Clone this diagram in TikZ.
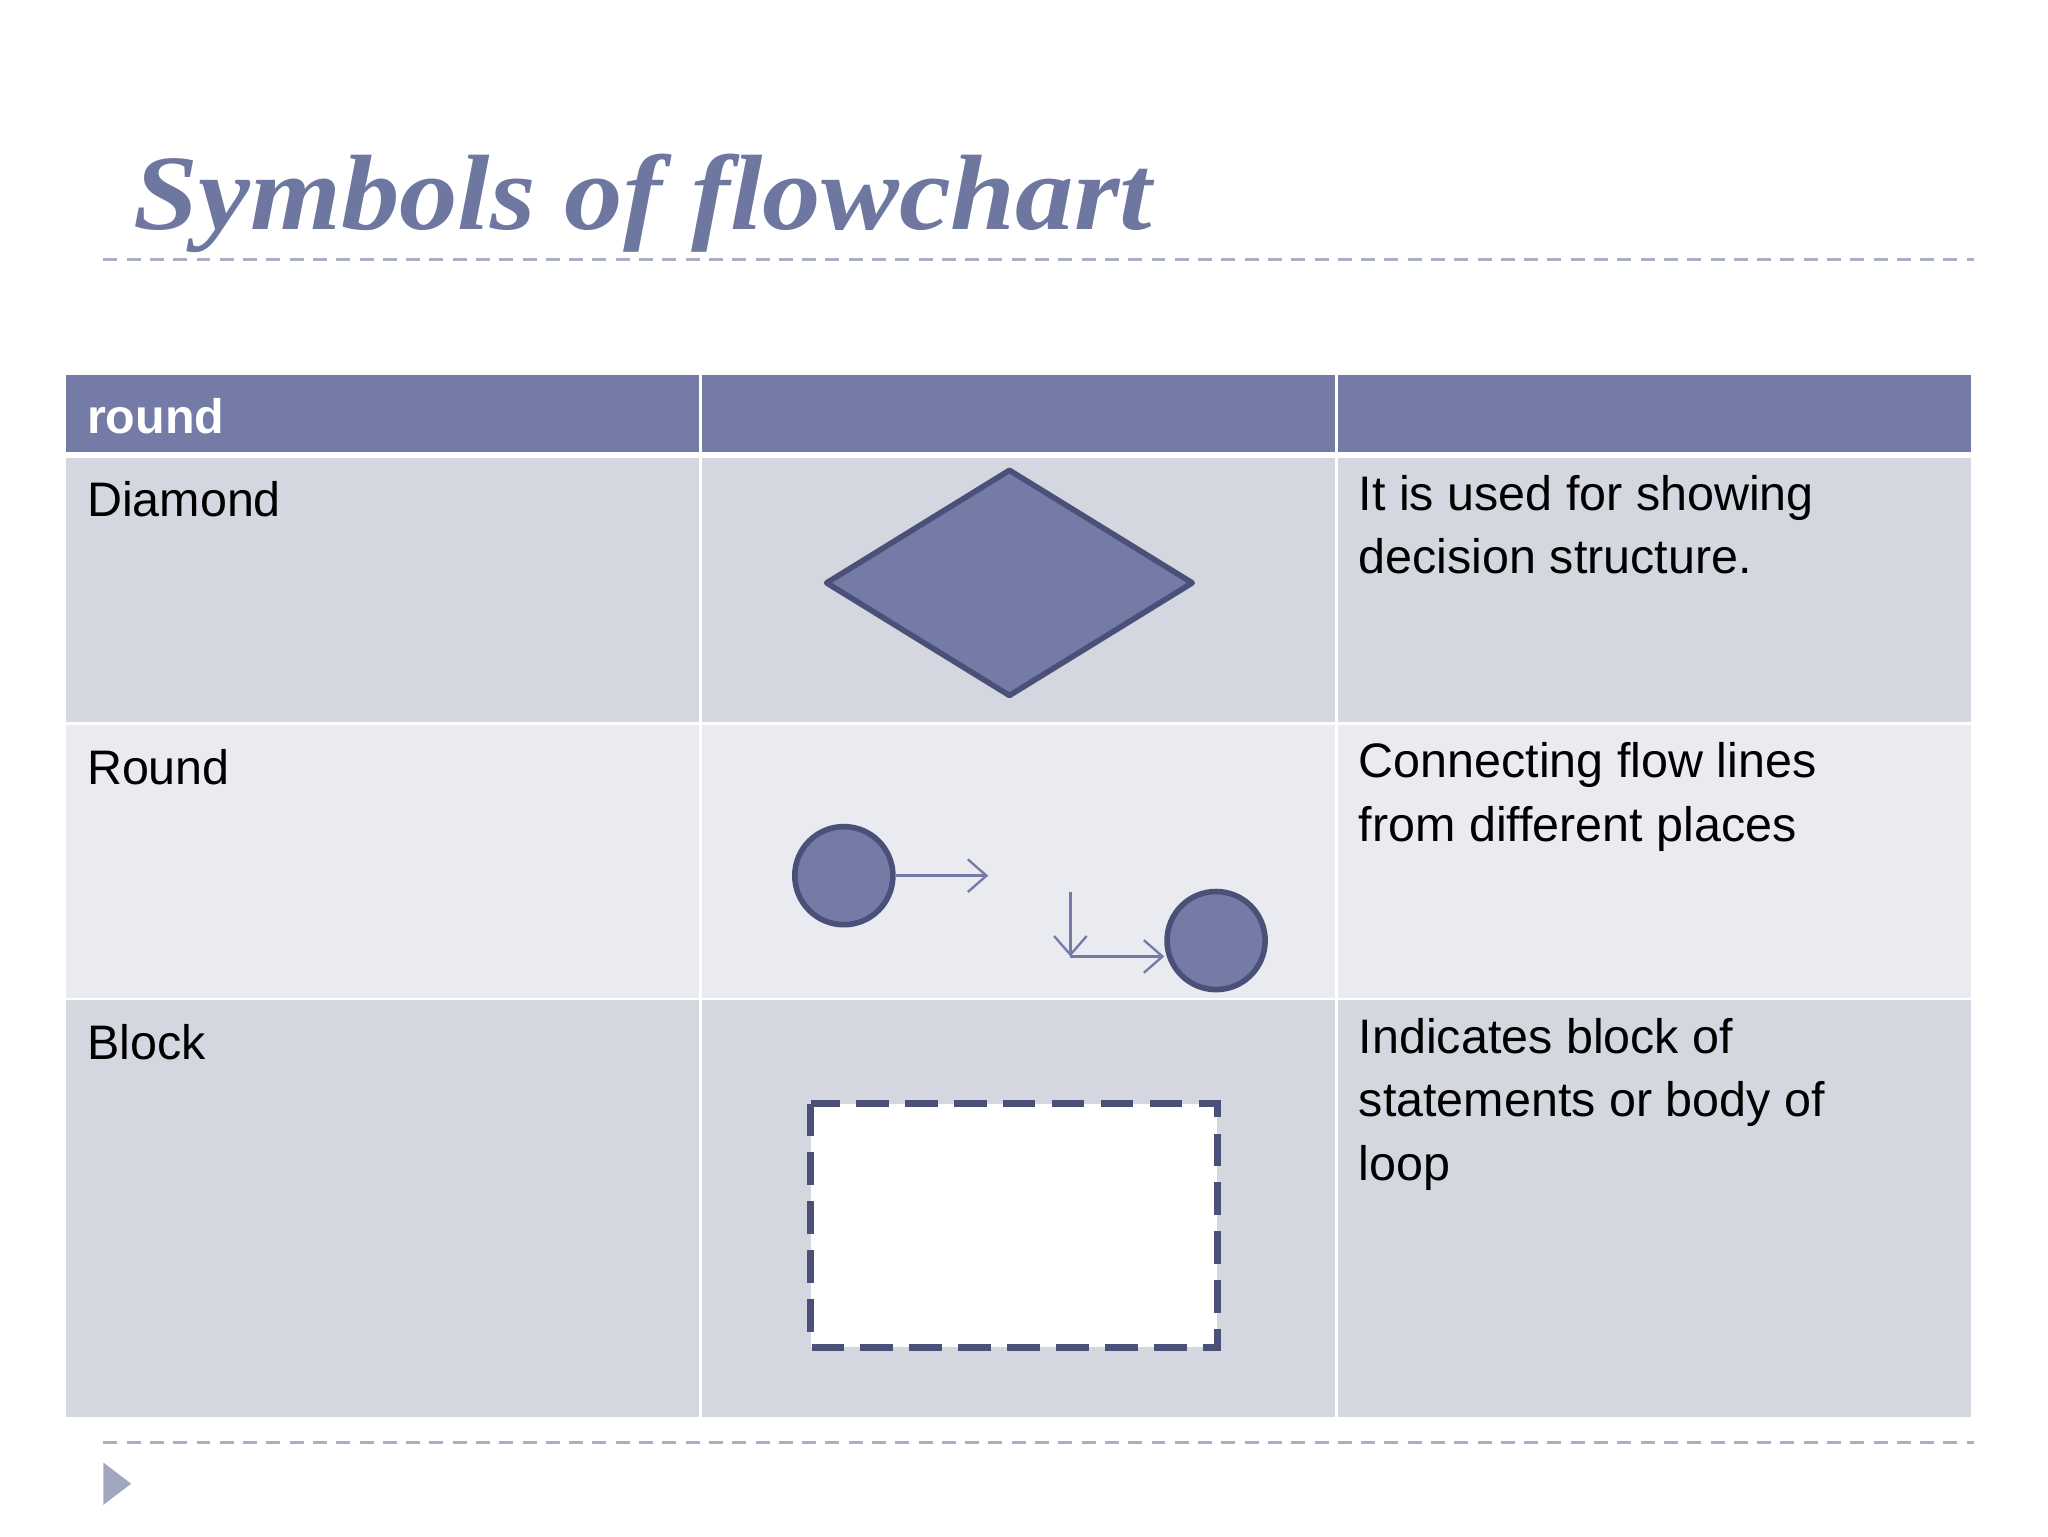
\documentclass[tikz,border=0pt]{standalone}
\usepackage{fontspec}
\setmainfont{Liberation Sans}
\newfontfamily\titlefont[FakeStretch=1.09]{Liberation Serif}
\usetikzlibrary{arrows.meta}
\definecolor{hdr}{HTML}{737BA6}
\definecolor{rowa}{HTML}{D5D7E0}
\definecolor{rowb}{HTML}{EAEBF0}
\definecolor{edge}{HTML}{4A5078}
\definecolor{ttl}{HTML}{6E77A0}
\definecolor{dline}{HTML}{A9AFC4}
\tikzset{cell/.style={anchor=north west,align=left,inner sep=0pt,font=\fontsize{10.4}{13.6}\selectfont},
 flow/.style={draw=hdr,line width=0.5pt,-{Straight Barb[length=4pt,width=7pt]}},
 sep/.style={draw=dline,line width=0.5pt,dash pattern=on 3pt off 2pt}}
\begin{document}
\begin{tikzpicture}[x=0.01cm,y=-0.01cm]
\useasboundingbox (0,0) rectangle (1546,1160);
\node[anchor=base west,inner sep=0pt,text=ttl,font=\titlefont\fontsize{23}{25}\selectfont\bfseries\itshape] (title) at (100,173) {Symbols of flowchart};
\draw[sep] (78,196) -- (1490,196);
\draw[sep] (78,1089) -- (1490,1089);
\foreach \a/\b in {50/528,530/1008,1010/1488}{
 \fill[hdr] (\a,283) rectangle (\b,341);
 \fill[rowa] (\a,346) rectangle (\b,545);
 \fill[rowb] (\a,547) rectangle (\b,753);
 \fill[rowa] (\a,755) rectangle (\b,1070);}
\node[cell,anchor=base west,text=white,font=\fontsize{10.4}{13}\selectfont\bfseries] (h) at (65,327) {round};
\node[cell,anchor=base west] (c1) at (65,390) {Diamond};
\node[cell,anchor=base west] (c2) at (65,592) {Round};
\node[cell,anchor=base west] (c3) at (65,800) {Block};
\node[cell] (d1) at (1025,358) {It is used for showing\\decision structure.};
\node[cell] (d2) at (1025,560) {Connecting flow lines\\from different places};
\node[cell] (d3) at (1025,768) {Indicates block of\\statements or body of\\loop};
\draw[fill=hdr,draw=edge,line width=1.2pt,line join=round] (624,440) -- (762,355) -- (900,440) -- (762,525) -- cycle;
\node[circle,fill=hdr,draw=edge,line width=1.2pt,minimum size=0.74cm,inner sep=0pt] (k1) at (637,661) {};
\node[circle,fill=hdr,draw=edge,line width=1.2pt,minimum size=0.74cm,inner sep=0pt] (k2) at (918,710) {};
\coordinate (e1) at (746,661);
\coordinate (v0) at (808,673);
\coordinate (v1) at (808,722);
\draw[flow] (k1.east) -- (e1);
\draw[flow] (v0) -- (v1);
\draw[flow] (v1) -- (k2.west|-v1);
\draw[fill=white,draw=edge,line width=1.4pt,dash pattern=on 7pt off 3.5pt] (612,833) rectangle (919,1017);
\fill[dline!85!hdr] (78,1104) -- (99,1120) -- (78,1136) -- cycle;
\end{tikzpicture}
\end{document}
